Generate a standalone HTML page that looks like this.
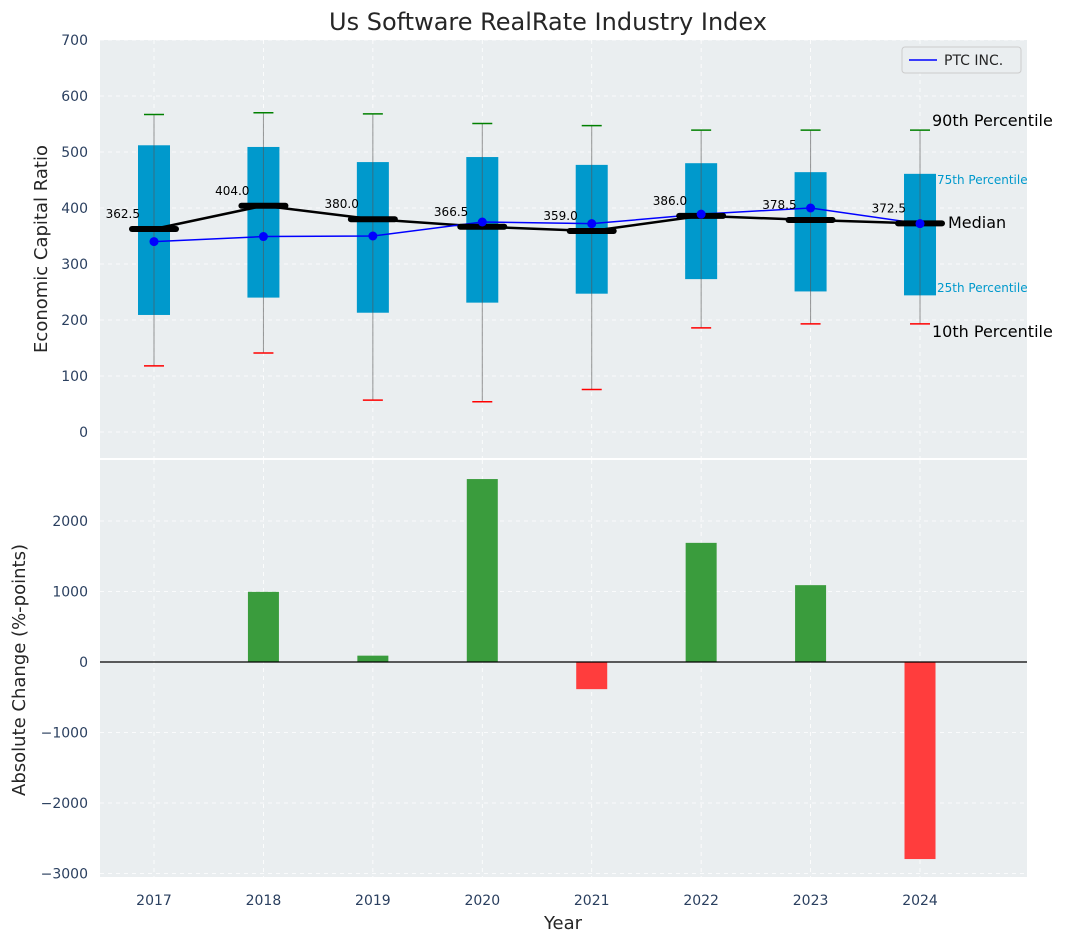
<!DOCTYPE html>
<html><head><meta charset="utf-8"><style>
body{margin:0;background:#fff;font-family:"Liberation Sans",sans-serif}
svg text{font-family:"DejaVu Sans","Liberation Sans",sans-serif}
</style></head><body>
<svg id="c" width="1067" height="942" xmlns="http://www.w3.org/2000/svg">
<rect x="100" y="40" width="927" height="418" fill="#eaeef0"/>
<rect x="100" y="460" width="927" height="417" fill="#eaeef0"/>
<g id="grid"></g><g id="marks"></g><g id="labels"></g>
<text x="548" y="30" text-anchor="middle" font-size="24" fill="#262626">Us Software RealRate Industry Index</text>
<text transform="translate(47,249) rotate(-90)" text-anchor="middle" font-size="18" fill="#262626">Economic Capital Ratio</text>
<text transform="translate(25,670) rotate(-90)" text-anchor="middle" font-size="18" fill="#262626">Absolute Change (%-points)</text>
<text x="563" y="929" text-anchor="middle" font-size="18" fill="#262626">Year</text>
<g>
<rect x="902" y="47" width="119" height="26" rx="3" fill="#eaeef0" stroke="#ccc"/>
<line x1="909" y1="60" x2="937" y2="60" stroke="blue" stroke-width="1.5"/>
<text x="944" y="65" font-size="14" fill="#262626">PTC INC.</text>
</g>
<text x="932" y="126" font-size="16" fill="#000">90th Percentile</text>
<text x="937" y="184" font-size="12" fill="#0099cc">75th Percentile</text>
<text x="948" y="228" font-size="16" fill="#000">Median</text>
<text x="937" y="292" font-size="12" fill="#0099cc">25th Percentile</text>
<text x="932" y="337" font-size="16" fill="#000">10th Percentile</text>
</svg>
<script>
const years=[2017,2018,2019,2020,2021,2022,2023,2024];
const p10=[118,141,57,54,76,186,193,193];
const p25=[209,240,213,231,247,273,251,244];
const medians=[362.5,404.0,380.0,366.5,359.0,386.0,378.5,372.5];
const p75=[512,509,482,491,477,480,464,461];
const p90=[567,570,568,551,547,539,539,539];
const ptc=[340,349,350,375,372,389,400,372];
const changes=[0,995,90,2595,-385,1690,1090,-2795];
const topTicks=[0,100,200,300,400,500,600,700];
const botTicks=[-3000,-2000,-1000,0,1000,2000];
const NS="http://www.w3.org/2000/svg";
const xs=i=>154+(years[i]-2017)*109.43;
const yt=v=>432-0.56*v;
const yb=v=>662-0.0705*v;
function mk(g,tag,a,name){const e=document.createElementNS(NS,tag);for(const k in a)e.setAttribute(k,a[k]);


document.getElementById(g).appendChild(e);return e;}
topTicks.forEach(v=>{mk('grid','line',{x1:100,x2:1027,y1:yt(v),y2:yt(v),stroke:'#fff','stroke-dasharray':'4,4','stroke-width':0.8},'top-gridline');
const t=mk('labels','text',{x:88,y:yt(v)+5,'text-anchor':'end','font-size':14,fill:'#2a3f5f'},'top-y-tick');t.textContent=v;});
botTicks.forEach(v=>{mk('grid','line',{x1:100,x2:1027,y1:yb(v),y2:yb(v),stroke:'#fff','stroke-dasharray':'4,4','stroke-width':0.8},'bottom-gridline');
const t=mk('labels','text',{x:88,y:yb(v)+5,'text-anchor':'end','font-size':14,fill:'#2a3f5f'},'bottom-y-tick');t.textContent=v.toString().replace('-','\u2212');});
years.forEach((y,i)=>{const x=xs(i);
mk('grid','line',{x1:x,x2:x,y1:40,y2:458,stroke:'#fff','stroke-dasharray':'4,4','stroke-width':0.8},'top-x-gridline');
mk('grid','line',{x1:x,x2:x,y1:460,y2:877,stroke:'#fff','stroke-dasharray':'4,4','stroke-width':0.8},'bottom-x-gridline');
const t=mk('labels','text',{x:x,y:905,'text-anchor':'middle','font-size':14,fill:'#2a3f5f'},'x-tick');t.textContent=y;});
years.forEach((y,i)=>{const x=xs(i);
mk('marks','rect',{x:x-16,y:yt(p75[i]),width:32,height:yt(p25[i])-yt(p75[i]),fill:'#0099cc'},'box-'+y);
mk('marks','line',{x1:x,x2:x,y1:yt(p90[i]),y2:yt(p10[i]),stroke:'#555','stroke-width':1,opacity:0.6},'whisker-'+y);
mk('marks','line',{x1:x-10,x2:x+10,y1:yt(p90[i]),y2:yt(p90[i]),stroke:'green','stroke-width':1.5},'cap-p90-'+y);
mk('marks','line',{x1:x-10,x2:x+10,y1:yt(p10[i]),y2:yt(p10[i]),stroke:'red','stroke-width':1.5},'cap-p10-'+y);
const v=changes[i];
if(v!==0)mk('marks','rect',{x:x-15.5,y:Math.min(yb(v),yb(0)),width:31,height:Math.abs(yb(v)-yb(0)),fill:v>0?'#3a9c3d':'#ff3d3d'},'change-bar-'+y);
});
mk('marks','line',{x1:100,x2:1027,y1:yb(0),y2:yb(0),stroke:'#000','stroke-width':1.2},'zero-line');
mk('marks','polyline',{points:years.map((y,i)=>xs(i)+','+yt(medians[i])).join(' '),fill:'none',stroke:'#000','stroke-width':2.5},'median-line');
mk('marks','polyline',{points:years.map((y,i)=>xs(i)+','+yt(ptc[i])).join(' '),fill:'none',stroke:'blue','stroke-width':1.5},'ptc-line');
years.forEach((y,i)=>{const x=xs(i);
mk('marks','line',{x1:x-22,x2:x+22,y1:yt(medians[i]),y2:yt(medians[i]),stroke:'#000','stroke-width':6,'stroke-linecap':'round'},'median-'+y);
mk('marks','circle',{cx:x,cy:yt(ptc[i]),r:4.5,fill:'blue'},'ptc-point-'+y);
const t=mk('labels','text',{x:x-14,y:yt(medians[i])-11,'text-anchor':'end','font-size':12,fill:'#000'},'median-label-'+y);t.textContent=medians[i].toFixed(1);});
</script>
</body></html>
